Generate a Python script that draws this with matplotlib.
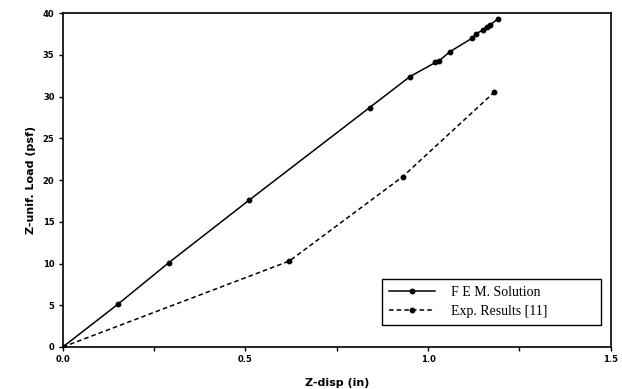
import matplotlib
matplotlib.use("Agg")
import matplotlib.pyplot as plt
from matplotlib.ticker import MultipleLocator, FixedFormatter, FixedLocator

# FEM solution
fem_x = [0.0, 0.15, 0.29, 0.51, 0.84, 0.95, 1.02, 1.03, 1.06, 1.12, 1.13, 1.15, 1.16, 1.17, 1.19]
fem_y = [0.0, 5.1, 10.1, 17.6, 28.7, 32.4, 34.1, 34.3, 35.4, 37.0, 37.5, 38.0, 38.4, 38.6, 39.3]

# risultati sperimentali [11]
exp_x = [0.0, 0.62, 0.93, 1.18]
exp_y = [0.0, 10.3, 20.4, 30.5]

x_ticks = [0.0, 0.5, 1.0, 1.5]
x_labels = ["0.0", "0.5", "1.0", "1.5"]
y_ticks = [0, 5, 10, 15, 20, 25, 30, 35, 40]

fig = plt.figure(figsize=(6.22, 3.89), dpi=100)
ax = fig.add_axes([0.101, 0.108, 0.881, 0.858])

ax.plot(fem_x, fem_y, "-o", color="black", lw=1.1, ms=3.2, label="F E M. Solution")
ax.plot(exp_x, exp_y, "--o", color="black", lw=1.1, ms=3.2, dashes=(3, 2),
        label="Exp. Results [11]")

ax.set_xlim(0, 1.5)
ax.set_ylim(0, 40)
ax.xaxis.set_major_locator(FixedLocator(x_ticks))
ax.xaxis.set_major_formatter(FixedFormatter(x_labels))
ax.xaxis.set_minor_locator(MultipleLocator(0.25))
ax.set_yticks(y_ticks)

ax.tick_params(axis="both", which="both", direction="out", length=3, width=1,
               labelsize=6, pad=3)
for lab in ax.get_xticklabels() + ax.get_yticklabels():
    lab.set_fontweight("bold")
for sp in ax.spines.values():
    sp.set_linewidth(1.2)

ax.set_xlabel("Z-disp (in)", fontsize=8, fontweight="bold", labelpad=10)
ax.set_ylabel("Z-unif. Load (psf)", fontsize=8, fontweight="bold", labelpad=5)

# legenda in basso a destra, box largo come nel riferimento
leg = ax.legend(loc="lower left", bbox_to_anchor=(0.582, 0.066, 0.40, 0.138),
                mode="expand", frameon=True, fancybox=False, edgecolor="black",
                handlelength=3.3, prop={"family": "Liberation Serif", "size": 10},
                borderpad=0.5, labelspacing=0.45, handletextpad=1.2,
                borderaxespad=0)
leg.get_frame().set_linewidth(1.0)
leg.get_frame().set_alpha(1)

fig.savefig("out.png", dpi=100)
